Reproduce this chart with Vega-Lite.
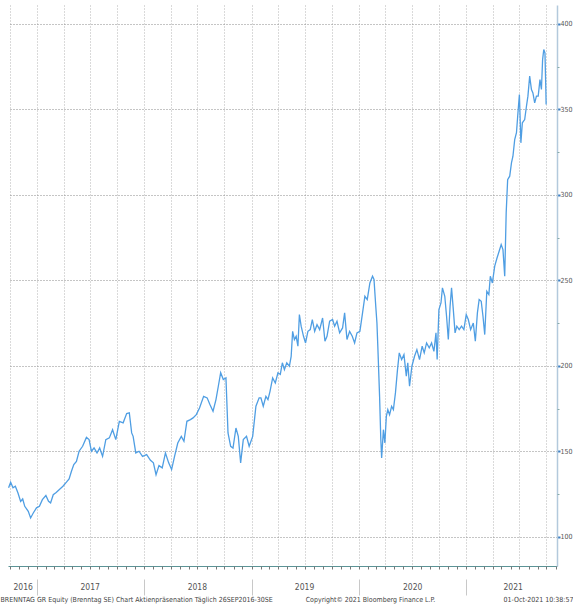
{
"$schema": "https://vega.github.io/schema/vega-lite/v6.json",
"width": 549,
"height": 561,
"autosize": {"type": "none"},
"padding": {"left": 8, "top": 5, "right": 16, "bottom": 38},
"background": "white",
"config": {
  "view": {"stroke": null},
  "font": "Liberation Sans Narrow, DejaVu Sans Condensed, sans-serif",
  "axis": {"titleFontWeight": "normal", "titleColor": "#444", "titleFontSize": 7, "labelFont": "Liberation Sans Narrow, DejaVu Sans Condensed, sans-serif", "titleFont": "Liberation Sans Narrow, DejaVu Sans Condensed, sans-serif"}
},
"data": {"values": [
{"d":"2016-09-26","v":128.7},{"d":"2016-10-03","v":132},{"d":"2016-10-11","v":128.7},{"d":"2016-10-19","v":129.6},{"d":"2016-10-28","v":125.7},{"d":"2016-11-06","v":120.8},{"d":"2016-11-13","v":122.2},{"d":"2016-11-20","v":117.9},{"d":"2016-12-02","v":115},{"d":"2016-12-10","v":111.1},{"d":"2016-12-19","v":114},{"d":"2016-12-30","v":117},
{"d":"2017-01-09","v":117.9},{"d":"2017-01-19","v":121.8},{"d":"2017-01-31","v":124.2},{"d":"2017-02-09","v":120.8},{"d":"2017-02-16","v":119.9},{"d":"2017-02-25","v":124.7},{"d":"2017-03-07","v":126},{"d":"2017-03-18","v":127.7},{"d":"2017-03-30","v":129.6},{"d":"2017-04-11","v":132},{"d":"2017-04-20","v":133.9},{"d":"2017-04-28","v":138.4},{"d":"2017-05-06","v":142.3},{"d":"2017-05-15","v":144.2},{"d":"2017-05-24","v":150.1},{"d":"2017-06-05","v":153},{"d":"2017-06-18","v":158.2},{"d":"2017-06-27","v":156.9},{"d":"2017-07-05","v":150.1},{"d":"2017-07-14","v":152},{"d":"2017-07-24","v":149.1},{"d":"2017-08-02","v":152},{"d":"2017-08-12","v":147.1},{"d":"2017-08-23","v":156.9},{"d":"2017-09-04","v":157.9},{"d":"2017-09-15","v":162.7},{"d":"2017-09-26","v":156.9},{"d":"2017-10-08","v":167.6},{"d":"2017-10-21","v":166.7},{"d":"2017-11-02","v":172.1},{"d":"2017-11-11","v":172.5},{"d":"2017-11-19","v":160.8},{"d":"2017-11-24","v":158.8},{"d":"2017-12-03","v":149.1},{"d":"2017-12-14","v":150.1},{"d":"2017-12-26","v":147.1},
{"d":"2018-01-09","v":148.1},{"d":"2018-01-22","v":144.8},{"d":"2018-02-01","v":143.3},{"d":"2018-02-10","v":136.4},{"d":"2018-02-20","v":141.7},{"d":"2018-03-03","v":140.4},{"d":"2018-03-14","v":149.1},{"d":"2018-03-25","v":143.3},{"d":"2018-04-04","v":139.4},{"d":"2018-04-14","v":147.1},{"d":"2018-04-25","v":154.9},{"d":"2018-05-07","v":158.8},{"d":"2018-05-16","v":155.9},{"d":"2018-05-26","v":167.6},{"d":"2018-06-07","v":168.6},{"d":"2018-06-16","v":169.6},{"d":"2018-06-27","v":171.5},{"d":"2018-07-08","v":175.4},{"d":"2018-07-22","v":182.2},{"d":"2018-08-03","v":181.3},{"d":"2018-08-12","v":177.6},{"d":"2018-08-23","v":173.5},{"d":"2018-09-02","v":180.3},{"d":"2018-09-10","v":188.1},{"d":"2018-09-18","v":196},{"d":"2018-09-27","v":192},{"d":"2018-10-06","v":193},{"d":"2018-10-13","v":160.8},{"d":"2018-10-22","v":153},{"d":"2018-10-30","v":152},{"d":"2018-11-09","v":163.7},{"d":"2018-11-17","v":158.8},{"d":"2018-11-25","v":143.3},{"d":"2018-12-04","v":156.9},{"d":"2018-12-15","v":158.8},{"d":"2018-12-24","v":153},
{"d":"2019-01-05","v":158.8},{"d":"2019-01-16","v":176.4},{"d":"2019-01-27","v":181.3},{"d":"2019-02-02","v":181.3},{"d":"2019-02-10","v":176.4},{"d":"2019-02-19","v":182.2},{"d":"2019-02-26","v":180.3},{"d":"2019-03-05","v":185.1},{"d":"2019-03-14","v":193},{"d":"2019-03-23","v":190},{"d":"2019-04-01","v":196},{"d":"2019-04-09","v":195},{"d":"2019-04-16","v":201.8},{"d":"2019-04-23","v":197.8},{"d":"2019-05-01","v":201.8},{"d":"2019-05-10","v":199.8},{"d":"2019-05-16","v":205.6},{"d":"2019-05-21","v":220.2},{"d":"2019-05-27","v":215.4},{"d":"2019-06-02","v":217.3},{"d":"2019-06-08","v":211.5},{"d":"2019-06-13","v":230},{"d":"2019-06-19","v":223.2},{"d":"2019-06-27","v":217.3},{"d":"2019-07-04","v":213.4},{"d":"2019-07-12","v":220.2},{"d":"2019-07-20","v":221.2},{"d":"2019-07-27","v":227.1},{"d":"2019-08-04","v":220.2},{"d":"2019-08-12","v":224.1},{"d":"2019-08-21","v":221.2},{"d":"2019-08-31","v":228},{"d":"2019-09-08","v":214.4},{"d":"2019-09-15","v":217.3},{"d":"2019-09-24","v":226.1},{"d":"2019-10-04","v":227.1},{"d":"2019-10-11","v":223.2},{"d":"2019-10-19","v":226.1},{"d":"2019-10-28","v":219.3},{"d":"2019-11-07","v":222.2},{"d":"2019-11-14","v":231},{"d":"2019-11-22","v":215.4},{"d":"2019-12-01","v":220.2},{"d":"2019-12-10","v":217.3},{"d":"2019-12-18","v":213.4},{"d":"2019-12-26","v":219.3},
{"d":"2020-01-05","v":220.2},{"d":"2020-01-14","v":231},{"d":"2020-01-22","v":240.7},{"d":"2020-01-30","v":238.8},{"d":"2020-02-08","v":248.5},{"d":"2020-02-17","v":252.4},{"d":"2020-02-22","v":250.5},{"d":"2020-02-28","v":234.9},{"d":"2020-03-03","v":225.1},{"d":"2020-03-06","v":211.5},{"d":"2020-03-12","v":182.2},{"d":"2020-03-16","v":157.9},{"d":"2020-03-19","v":146.2},{"d":"2020-03-25","v":162.7},{"d":"2020-03-30","v":154.9},{"d":"2020-04-04","v":170.5},{"d":"2020-04-09","v":174.4},{"d":"2020-04-15","v":171.5},{"d":"2020-04-22","v":176.4},{"d":"2020-04-28","v":174.4},{"d":"2020-05-05","v":184.2},{"d":"2020-05-12","v":197.8},{"d":"2020-05-18","v":207.6},{"d":"2020-05-26","v":203.7},{"d":"2020-06-03","v":206.6},{"d":"2020-06-11","v":194},{"d":"2020-06-16","v":201.8},{"d":"2020-06-22","v":188.1},{"d":"2020-06-30","v":199.8},{"d":"2020-07-09","v":205.6},{"d":"2020-07-17","v":209.5},{"d":"2020-07-26","v":203.7},{"d":"2020-08-04","v":211.5},{"d":"2020-08-11","v":207.6},{"d":"2020-08-19","v":213.4},{"d":"2020-08-28","v":210.5},{"d":"2020-09-05","v":213.4},{"d":"2020-09-13","v":208.5},{"d":"2020-09-20","v":219.3},{"d":"2020-09-24","v":203.7},{"d":"2020-09-30","v":232.9},{"d":"2020-10-07","v":236.8},{"d":"2020-10-12","v":245.6},{"d":"2020-10-20","v":240.7},{"d":"2020-10-26","v":229},{"d":"2020-11-01","v":215.4},{"d":"2020-11-07","v":234.9},{"d":"2020-11-12","v":245.6},{"d":"2020-11-18","v":232.9},{"d":"2020-11-24","v":219.3},{"d":"2020-11-30","v":223.2},{"d":"2020-12-08","v":221.2},{"d":"2020-12-16","v":223.2},{"d":"2020-12-24","v":221.2},
{"d":"2021-01-01","v":230},{"d":"2021-01-08","v":227.1},{"d":"2021-01-16","v":221.2},{"d":"2021-01-25","v":225.1},{"d":"2021-02-01","v":214.4},{"d":"2021-02-08","v":231},{"d":"2021-02-14","v":238.8},{"d":"2021-02-21","v":237.8},{"d":"2021-02-27","v":229},{"d":"2021-03-05","v":218.3},{"d":"2021-03-12","v":243.6},{"d":"2021-03-19","v":241.7},{"d":"2021-03-24","v":252.4},{"d":"2021-03-31","v":248.5},{"d":"2021-04-08","v":258.3},{"d":"2021-04-16","v":263.2},{"d":"2021-04-23","v":267},{"d":"2021-04-30","v":270.9},{"d":"2021-05-06","v":268},{"d":"2021-05-12","v":252.4},{"d":"2021-05-17","v":289.5},{"d":"2021-05-22","v":308.9},{"d":"2021-05-29","v":310.9},{"d":"2021-06-04","v":318.7},{"d":"2021-06-09","v":322.6},{"d":"2021-06-15","v":332.3},{"d":"2021-06-21","v":336.3},{"d":"2021-06-26","v":347.9},{"d":"2021-07-01","v":358.7},{"d":"2021-07-06","v":330.4},{"d":"2021-07-11","v":342.1},{"d":"2021-07-19","v":344},{"d":"2021-07-25","v":351.8},{"d":"2021-07-30","v":357.7},{"d":"2021-08-05","v":369.4},{"d":"2021-08-11","v":361.6},{"d":"2021-08-16","v":359.6},{"d":"2021-08-22","v":353.8},{"d":"2021-08-28","v":357.7},{"d":"2021-09-03","v":357.7},{"d":"2021-09-09","v":367.4},{"d":"2021-09-14","v":361.6},{"d":"2021-09-18","v":379.1},{"d":"2021-09-22","v":385},{"d":"2021-09-26","v":383},{"d":"2021-09-29","v":361.6},{"d":"2021-09-30","v":352.8}
]},
"resolve": {"axis": {"x": "independent", "y": "independent"}},
"layer": [
{
  "mark": {"type": "line", "color": "#4f9ee3", "strokeWidth": 1.3},
  "encoding": {
    "x": {"field": "d", "type": "temporal",
      "scale": {"type": "utc", "domain": [{"year": 2016, "month": 9, "date": 24, "utc": true}, {"year": 2021, "month": 11, "date": 6, "utc": true}]},
      "axis": {"orient": "bottom", "grid": true, "tickCount": {"interval": "month", "step": 3}, "gridColor": "#b5b5b5", "gridDash": [1, 2], "ticks": false, "labels": false, "domain": true, "domainColor": "#5b9396", "domainWidth": 1, "title": null}},
    "y": {"field": "v", "type": "quantitative",
      "scale": {"domain": [83, 411], "nice": false, "zero": false},
      "axis": {"orient": "right", "values": [100, 150, 200, 250, 300, 350, 400], "grid": true, "gridColor": "#8a8a8a", "gridDash": [1, 2], "tickColor": "#3d7fc4", "tickSize": 3, "tickWidth": 2, "domainColor": "#b3c9dc", "domainWidth": 1.5, "labelColor": "#555", "labelFontSize": 7, "labelPadding": 0, "title": null}}
  }
},
{
  "mark": {"type": "line", "opacity": 0},
  "encoding": {
    "x": {"field": "d", "type": "temporal",
      "scale": {"type": "utc", "domain": [{"year": 2016, "month": 9, "date": 24, "utc": true}, {"year": 2021, "month": 11, "date": 6, "utc": true}]},
      "axis": {"orient": "bottom", "tickCount": {"interval": "month", "step": 1}, "ticks": true, "tickSize": 3, "tickColor": "#777", "labels": false, "domain": false, "grid": false,
        "title": "Copyright© 2021 Bloomberg Finance L.P.", "titleX": 362, "titleY": 35, "titleAlign": "center", "titleBaseline": "alphabetic"}},
    "y": {"field": "v", "type": "quantitative",
      "axis": {"orient": "right", "values": [125, 175, 225, 275, 325, 375], "tickSize": 2, "tickColor": "#8aa", "labels": false, "domain": false, "grid": false, "title": null}}
  }
},
{
  "mark": {"type": "line", "opacity": 0},
  "encoding": {
    "x": {"field": "d", "type": "temporal",
      "scale": {"type": "utc", "domain": [{"year": 2016, "month": 9, "date": 24, "utc": true}, {"year": 2021, "month": 11, "date": 6, "utc": true}]},
      "axis": {"orient": "bottom", "offset": 13, "values": [{"year": 2017, "month": 1, "date": 1, "utc": true}, {"year": 2018, "month": 1, "date": 1, "utc": true}, {"year": 2019, "month": 1, "date": 1, "utc": true}, {"year": 2020, "month": 1, "date": 1, "utc": true}, {"year": 2021, "month": 1, "date": 1, "utc": true}],
        "tickSize": 16, "tickColor": "#c8c8c8", "labels": false, "domain": false, "grid": false,
        "title": "01-Oct-2021 10:38:57", "titleX": 565, "titleY": 22, "titleAlign": "right", "titleBaseline": "alphabetic"}},
    "y": {"field": "v", "type": "quantitative", "axis": null}
  }
},
{
  "mark": {"type": "line", "opacity": 0},
  "encoding": {
    "x": {"field": "d", "type": "temporal",
      "scale": {"type": "utc", "domain": [{"year": 2016, "month": 9, "date": 24, "utc": true}, {"year": 2021, "month": 11, "date": 6, "utc": true}]},
      "axis": {"orient": "bottom", "offset": 14, "values": [{"year": 2016, "month": 11, "date": 13, "utc": true}, {"year": 2017, "month": 6, "date": 29, "utc": true}, {"year": 2018, "month": 6, "date": 29, "utc": true}, {"year": 2019, "month": 6, "date": 29, "utc": true}, {"year": 2020, "month": 7, "date": 1, "utc": true}, {"year": 2021, "month": 6, "date": 8, "utc": true}],
        "ticks": false, "tickSize": 0, "labelExpr": "utcFormat(datum.value, '%Y')", "labelPadding": 2, "labelFontSize": 8.5, "labelColor": "#555", "labelOverlap": false, "labelBound": false, "labelFlush": false, "domain": false, "grid": false,
        "title": "BRENNTAG GR Equity (Brenntag SE) Chart Aktienpräsenation  Täglich 26SEP2016-30SE", "titleX": -8, "titleY": 21, "titleAlign": "left", "titleBaseline": "alphabetic"}},
    "y": {"field": "v", "type": "quantitative", "axis": null}
  }
}
]
}
